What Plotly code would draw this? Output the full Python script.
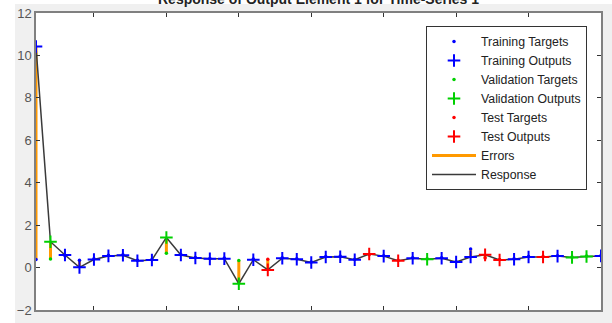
import plotly.graph_objects as go

# ---- data ----
time_steps = list(range(1, 41))
partition = ["T", "V", "T", "T", "T", "T", "T", "T", "T", "V",
             "T", "T", "T", "T", "V", "T", "S", "T", "T", "T",
             "T", "T", "T", "S", "T", "S", "T", "V", "T", "T",
             "T", "S", "S", "T", "T", "S", "T", "V", "V", "T"]
outputs = [10.42, 1.22, 0.59, 0.01, 0.38, 0.55, 0.58, 0.32, 0.36, 1.42,
           0.59, 0.45, 0.41, 0.42, -0.76, 0.37, -0.11, 0.44, 0.39, 0.24,
           0.50, 0.51, 0.37, 0.64, 0.54, 0.32, 0.44, 0.39, 0.44, 0.26,
           0.50, 0.60, 0.36, 0.39, 0.50, 0.50, 0.54, 0.48, 0.52, 0.55]
targets = [0.38, 0.40, 0.56, 0.34, 0.42, 0.58, 0.60, 0.35, 0.38, 0.68,
           0.62, 0.47, 0.43, 0.45, 0.33, 0.40, 0.39, 0.46, 0.41, 0.26,
           0.52, 0.53, 0.39, 0.60, 0.56, 0.34, 0.46, 0.41, 0.46, 0.28,
           0.87, 0.45, 0.38, 0.41, 0.52, 0.52, 0.56, 0.50, 0.54, 0.57]
x_ticks = [5, 10, 15, 20, 25, 30, 35]
y_ticks = [-2, 0, 2, 4, 6, 8, 10, 12]
title_text = "Response of Output Element 1 for Time-Series 1"

groups = [("T", "Training", "#0000ff"),
          ("V", "Validation", "#00d000"),
          ("S", "Test", "#ff0000")]

fig = go.Figure()

# errors (orange vertical segments target -> output)
ex, ey = [], []
for t, o, g in zip(time_steps, outputs, targets):
    ex += [t, t, None]
    ey += [g, o, None]
fig.add_trace(go.Scatter(x=ex, y=ey, mode="lines", name="Errors",
                         line=dict(color="#ff9900", width=3), legendrank=7))
# response line
fig.add_trace(go.Scatter(x=time_steps, y=outputs, mode="lines", name="Response",
                         line=dict(color="#3a3a3a", width=1.5), legendrank=8))

rank = 1
for key, label, col in groups:
    xs = [t for t, p in zip(time_steps, partition) if p == key]
    tg = [v for v, p in zip(targets, partition) if p == key]
    op = [v for v, p in zip(outputs, partition) if p == key]
    fig.add_trace(go.Scatter(x=xs, y=tg, mode="markers", name=label + " Targets",
                             marker=dict(symbol="circle", size=3.5, color=col),
                             legendrank=rank))
    fig.add_trace(go.Scatter(x=xs, y=op, mode="markers", name=label + " Outputs",
                             marker=dict(symbol="cross-thin", size=9,
                                         line=dict(color=col, width=2)),
                             legendrank=rank + 1))
    rank += 2

L, R, T, B = 36, 11, 13, 13
W, H = 612, 323
pw, ph = W - L - R, H - T - B

fig.update_layout(
    width=W, height=H,
    margin=dict(l=L, r=R, t=T, b=B, pad=0, autoexpand=False),
    paper_bgcolor="#f0f0f0", plot_bgcolor="#ffffff",
    font=dict(family="Liberation Sans, Arial, sans-serif", color="#222"),
    showlegend=True,
    legend=dict(x=(426 - L) / pw, y=1 - (26 - T) / ph, xanchor="left", yanchor="top",
                bgcolor="#ffffff", bordercolor="#333333", borderwidth=1,
                font=dict(size=12.3, color="#222"), itemwidth=44,
                tracegroupgap=0, traceorder="normal"),
    xaxis=dict(range=[1, 40], tickvals=x_ticks, showticklabels=False,
               ticks="inside", ticklen=4, tickcolor="#333", automargin=False,
               showline=True, linecolor="#808080", linewidth=1.5, mirror="ticks",
               showgrid=False, zeroline=False),
    yaxis=dict(range=[-2, 12], tickvals=y_ticks, automargin=False,
               ticks="inside", ticklen=4, tickcolor="#333",
               tickfont=dict(size=13, color="#555"),
               showline=True, linecolor="#808080", linewidth=1.5, mirror="ticks",
               showgrid=False, zeroline=False),
    shapes=[
        dict(type="rect", xref="paper", yref="paper", layer="below",
             x0=-L / pw, x1=(15 - L) / pw, y0=-B / ph, y1=1 + T / ph,
             fillcolor="#ffffff", line=dict(width=0)),
        dict(type="rect", xref="paper", yref="paper", layer="below",
             x0=-L / pw, x1=1 + R / pw, y0=1 + (T - 4) / ph, y1=1 + T / ph,
             fillcolor="#ffffff", line=dict(width=0)),
    ],
    annotations=[dict(text="<b>" + title_text + "</b>", xref="paper", yref="paper",
                      x=0.5, y=1 + (T - 9) / ph, xanchor="center", yanchor="bottom",
                      showarrow=False, font=dict(size=14, color="#222"))],
)

fig.write_html("out.html",
               config={"displayModeBar": False},
               post_script="document.body.style.margin='0px';"
                           "document.body.style.overflow='hidden';")
